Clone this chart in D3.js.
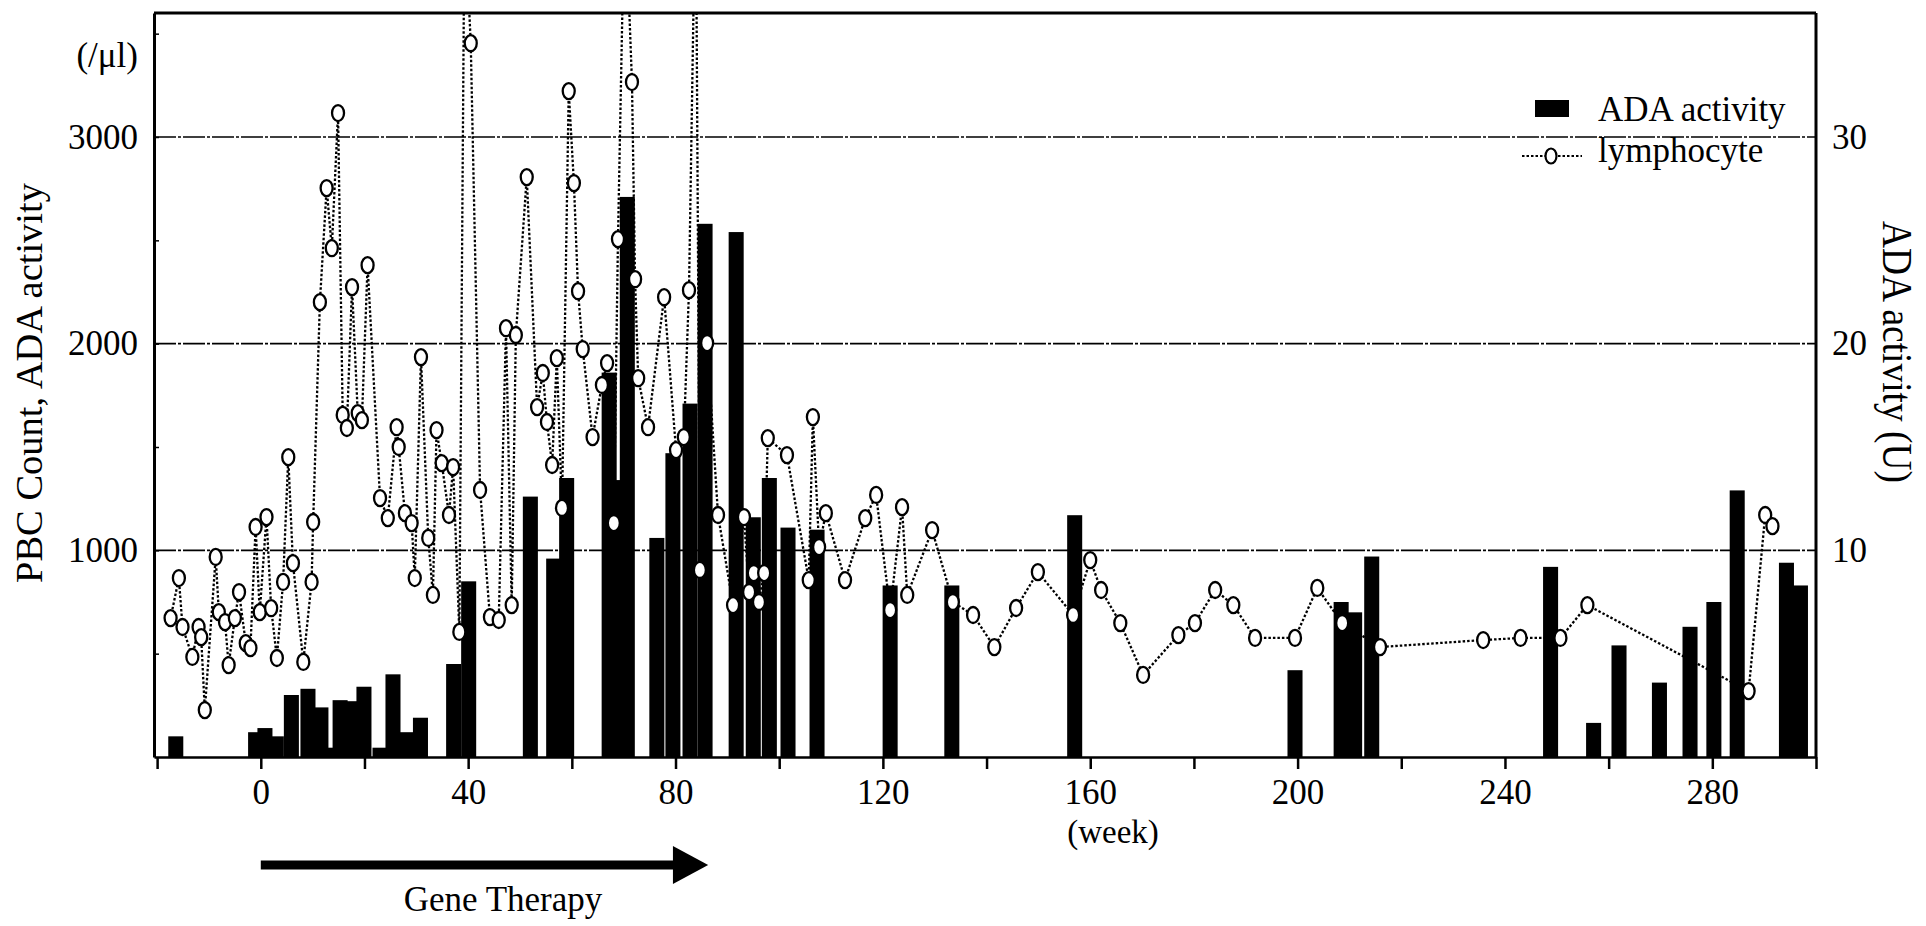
<!DOCTYPE html>
<html><head><meta charset="utf-8">
<script src="https://cdn.jsdelivr.net/npm/d3@7/dist/d3.min.js"></script>
<style>
body{margin:0;background:#fff;}
svg text{font-family:"Liberation Serif","Times New Roman",serif;fill:#000;}
</style></head><body>
<svg id="chart" width="1926" height="926"></svg>
<script>
// ---- data ----
const lymphWeeks = [-17.4,-15.8,-15.1,-13.2,-12.0,-11.5,-10.8,-8.7,-8.1,-6.9,-6.2,-5.0,-4.2,-2.9,-2.0,-1.0,-0.2,1.1,2.0,3.1,4.3,5.3,6.2,8.2,9.8,10.1,
  11.4,12.7,13.7,14.9,15.8,16.6,17.6,18.7,19.5,20.6,23.0,24.5,26.2,26.6,27.8,29.1,29.7,30.9,32.3,33.2,33.9,34.9,36.3,37.1,38.3,39.3,40.5,
  42.3,44.2,45.9,47.3,48.4,49.2,51.3,53.3,54.4,55.2,56.2,57.1,58.1,59.4,60.4,61.2,62.1,64.0,65.8,66.8,68.1,68.9,70.2,71.6,72.2,72.8,74.7,
  77.8,80.1,81.6,82.6,83.9,84.7,86.1,88.2,91.1,93.2,94.2,95.1,96.1,97.1,97.8,101.5,105.7,106.5,107.7,109.0,112.7,116.6,118.7,121.4,123.7,
  124.7,129.5,133.5,137.4,141.5,145.7,149.9,156.7,160.0,162.1,165.8,170.2,177.0,180.2,184.1,187.6,191.8,199.5,203.8,208.6,215.9,235.8,
  243.0,250.7,255.9,287.0,290.2,291.6];
const lymphCounts = [672,866,629,484,629,580,227,968,701,653,445,672,798,551,527,1113,701,1161,720,479,847,1451,938,460,847,1137,
  2201,2753,2462,3116,1655,1592,2274,1664,1630,2380,1253,1156,1596,1500,1180,1132,866,1935,1060,784,1582,1422,1171,1403,605,4100,3454,
  1292,677,663,2075,735,2042,2806,1693,1858,1621,1413,1930,1205,3222,2777,2254,1974,1548,1800,1906,1132,2506,4200,3266,2312,1833,1596,
  2225,1485,1548,2259,4300,905,2003,1171,735,1161,798,890,750,890,1543,1461,856,1645,1016,1180,856,1156,1268,711,1209,
  784,1098,750,687,532,721,895,687,953,808,648,397,590,648,808,735,576,576,818,648,532,566,
  576,576,735,319,1171,1117];

const adaWeeks = [-16.4,-1.0,0.8,3.0,5.9,9.1,11.6,13.3,15.3,17.4,19.9,23.0,25.5,28.3,30.8,37.2,40.1,52.0,56.5,59.0,67.2,69.0,70.7,
  76.4,79.5,82.8,85.7,91.7,95.0,98.1,101.7,107.3,121.4,133.3,157.0,199.5,208.4,211.0,214.3,248.8,257.1,262.0,269.8,275.7,280.3,
  284.8,294.3,297.0];
const adaUnits = [1.0,1.2,1.4,1.0,3.0,3.3,2.4,0.45,2.75,2.7,3.4,0.45,4.0,1.2,1.9,4.5,8.5,12.6,9.6,13.5,18.6,13.4,27.1,
  10.6,14.7,17.1,25.8,25.4,11.6,13.5,11.1,11.0,8.3,8.3,11.7,4.2,7.5,7.0,9.7,9.2,1.65,5.4,3.6,6.3,7.5,
  12.9,9.4,8.3];

const xTickValues = d3.range(-20, 301, 20);
const xTickLabels = [0,40,80,120,160,200,240,280];
const leftTickValues = [1000,2000,3000];
const rightTickValues = [10,20,30];
const gridValues = [1000,2000,3000];

// ---- layout ----
const L = 154, R = 1816, T = 13, B = 757;
const svg = d3.select("#chart");

const x = d3.scaleLinear().domain([-20.6, 300]).range([L, R]);
const y = d3.scaleLinear().domain([0, 3600]).range([B, T]);
const yR = d3.scaleLinear().domain([0, 36]).range([B, T]);
const barW = x(2.9) - x(0);

svg.append("defs").append("clipPath").attr("id","plotclip")
  .append("rect").attr("x",L).attr("y",T).attr("width",R-L).attr("height",B-T);

// grid lines
svg.append("g").selectAll("line").data(gridValues).join("line")
  .attr("x1",L).attr("x2",R).attr("y1",d=>y(d)).attr("y2",d=>y(d))
  .attr("stroke","#000").attr("stroke-width",1.6).attr("stroke-dasharray","22,2,3,2");

// bars
const adaData = adaWeeks.map((w,i)=>({w, v: adaUnits[i]}));
svg.append("g").attr("clip-path","url(#plotclip)").selectAll("rect").data(adaData).join("rect")
  .attr("x",d=>x(d.w)-barW/2).attr("width",barW)
  .attr("y",d=>yR(d.v)).attr("height",d=>B - yR(d.v))
  .attr("fill","#000");

// lymphocyte line
const lymData = lymphWeeks.map((w,i)=>({w, v: lymphCounts[i]}));
const line = d3.line().x(d=>x(d.w)).y(d=>y(d.v));
const lg = svg.append("g").attr("clip-path","url(#plotclip)");
lg.append("path").datum(lymData).attr("d",line)
  .attr("fill","none").attr("stroke","#000").attr("stroke-width",2.3).attr("stroke-dasharray","2.5,2");
lg.selectAll("ellipse").data(lymData.filter(d=>d.v<=3600)).join("ellipse")
  .attr("cx",d=>x(d.w)).attr("cy",d=>y(d.v)).attr("rx",6).attr("ry",8)
  .attr("fill","#fff").attr("stroke","#000").attr("stroke-width",2.3);

// frame
svg.append("line").attr("x1",L).attr("x2",R).attr("y1",T).attr("y2",T).attr("stroke","#000").attr("stroke-width",3);
svg.append("line").attr("x1",R).attr("x2",R).attr("y1",T).attr("y2",B).attr("stroke","#000").attr("stroke-width",3);

// x axis
const xAxis = d3.axisBottom(x).tickValues(xTickValues).tickSize(12).tickSizeOuter(0)
  .tickFormat(d => xTickLabels.includes(d) ? String(d) : "");
const gx = svg.append("g").attr("transform",`translate(0,${B})`).call(xAxis);
gx.select(".domain").attr("stroke-width",2.5);
gx.selectAll(".tick line").attr("stroke-width",2.5);
gx.selectAll(".tick text").attr("y",47).attr("dy",0).style("font-size","35px")
  .style("font-family",'"Liberation Serif","Times New Roman",serif');

// left axis
const yAxis = d3.axisLeft(y).tickValues(d3.range(500,3600,500)).tickSize(-5).tickSizeOuter(0)
  .tickFormat(d => leftTickValues.includes(d) ? String(d) : "");
const gy = svg.append("g").attr("transform",`translate(${L},0)`).call(yAxis);
gy.select(".domain").attr("stroke-width",3);
gy.selectAll(".tick line").attr("stroke-width",1.5);
gy.selectAll(".tick text").attr("x",-16).style("font-size","35px")
  .style("font-family",'"Liberation Serif","Times New Roman",serif');

// right axis
const yAxisR = d3.axisRight(yR).tickValues(rightTickValues).tickSize(0).tickSizeOuter(0).tickFormat(d=>String(d));
const gyr = svg.append("g").attr("transform",`translate(${R},0)`).call(yAxisR);
gyr.select(".domain").remove();
gyr.selectAll(".tick text").attr("x",16).style("font-size","35px")
  .style("font-family",'"Liberation Serif","Times New Roman",serif');

// axis titles
svg.append("text").attr("x",138).attr("y",67).attr("text-anchor","end").style("font-size","35px").text("(/μl)");
svg.append("text").attr("transform","translate(42,383) rotate(-90)").attr("text-anchor","middle")
  .style("font-size","38px").attr("textLength",400).attr("lengthAdjust","spacingAndGlyphs").text("PBC Count, ADA activity");
svg.append("text").attr("transform","translate(1883,352) rotate(90)").attr("text-anchor","middle")
  .style("font-size","42px").attr("textLength",262).attr("lengthAdjust","spacingAndGlyphs").text("ADA activity (U)");
svg.append("text").attr("x",1113).attr("y",843).attr("text-anchor","middle").style("font-size","33px").text("(week)");

// gene therapy arrow
const arrowStart = 0, arrowEnd = 79.5, arrowTip = 86.3;
const ay = 865;
svg.append("line").attr("x1",x(arrowStart)).attr("x2",x(arrowEnd)+2).attr("y1",ay).attr("y2",ay)
  .attr("stroke","#000").attr("stroke-width",9);
svg.append("polygon").attr("points",`${x(arrowEnd)},${ay-19} ${x(arrowTip)},${ay} ${x(arrowEnd)},${ay+19}`).attr("fill","#000");
svg.append("text").attr("x",503).attr("y",911).attr("text-anchor","middle").style("font-size","35px").text("Gene Therapy");

// legend
const leg = svg.append("g");
leg.append("rect").attr("x",1535).attr("y",100).attr("width",34).attr("height",17).attr("fill","#000");
leg.append("text").attr("x",1598).attr("y",121).style("font-size","35px").text("ADA activity");
leg.append("line").attr("x1",1522).attr("x2",1582).attr("y1",156).attr("y2",156)
  .attr("stroke","#000").attr("stroke-width",2.2).attr("stroke-dasharray","2.5,2");
leg.append("ellipse").attr("cx",1551).attr("cy",156).attr("rx",5.5).attr("ry",7.5)
  .attr("fill","#fff").attr("stroke","#000").attr("stroke-width",2.2);
leg.append("text").attr("x",1598).attr("y",162).style("font-size","35px").text("lymphocyte");
</script>
</body></html>
